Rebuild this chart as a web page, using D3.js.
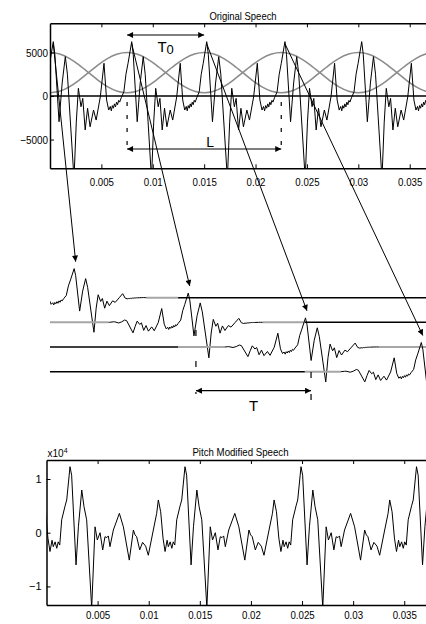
<!DOCTYPE html>
<html><head><meta charset="utf-8">
<script src="https://cdn.jsdelivr.net/npm/d3@7"></script>
<style>
html,body{margin:0;padding:0;background:#fff;}
svg{display:block;}
text{font-family:"Liberation Sans",Arial,Helvetica,sans-serif;fill:#000;}
</style></head><body>
<svg id="chart" width="426" height="624"></svg>
<script>
// ---------------- data ----------------
const xTicks = [0.005, 0.01, 0.015, 0.02, 0.025, 0.03, 0.035];
const xTickLabels = ["0.005", "0.01", "0.015", "0.02", "0.025", "0.03", "0.035"];
const topYTicks = [5000, 0, -5000];
const topYTickLabels = ["5000", "0", "\u22125000"];
const bottomYTicks = [10000, 0, -10000];
const bottomYTickLabels = ["1", "0", "\u22121"];
const titles = ["Original Speech", "Pitch Modified Speech"];

// original speech: one pitch period (ms after the main peak, amplitude)
const T0 = 0.0075;                      // analysis pitch period (s)
const origPeriodMs = 7.5;
const origShapeMs  = [0.00, 0.15, 0.55, 0.85, 1.15, 1.35, 1.98, 2.20, 2.40, 2.65, 2.82, 3.05, 3.28, 3.52, 3.85, 4.10, 4.50, 4.85, 5.10, 5.30, 5.45, 5.55, 5.65, 5.75, 5.85, 5.95, 6.05, 6.15, 6.25, 6.35, 6.50, 6.75, 6.95, 7.15];
const origShapeVal = [6240, 4800, -2950, 1500, 4520, 2500, -9500, -3000, 885, -1230, -270, -3900, -1410, -3530, -1610, -2760, -80, 3760, -460, -1610, -1200, -1700, -1100, -1400, -900, -1250, -700, -1000, -500, -700, -200, 490, 2500, 3760];
const origPeaks = [-0.00718, 0.00032, 0.00795, 0.01525, 0.02286, 0.03033, 0.0378, 0.0453];

// analysis windows (raised cosine) drawn over the original speech
const pitchMarks = [0, 0.0075, 0.015, 0.0225, 0.030, 0.0375];
const windowShape = [1, 0.962, 0.854, 0.691, 0.5, 0.309, 0.146, 0.038, 0]; // centre -> edge
const windowFloor = 380, windowTop = 5000;

// windowed segments, moved to the new pitch marks
const segSourceMarks = [0.0075, 0.015, 0.0225, 0.030];
const segNewMarks    = [0.0019, 0.0132, 0.0245, 0.0358];
const rowZeroSpans   = [[0, 0.01246], [0, 0.0248], [0.01246, 0.0375], [0.0248, 0.0375]];

// annotation spans
const t0Span = [0.0075, 0.015];
const lSpan  = [0.0075, 0.0225];
const tSpan  = [0.0142, 0.0254];

// pitch-modified speech: one period (ms after the main peak, amplitude)
const modPeriodMs = 11.25;
const modShapeMs  = [0.00, 0.16, 0.59, 0.82, 1.15, 1.37, 1.63, 2.12, 2.45, 2.67, 2.94, 3.20, 3.42, 3.60, 3.75, 3.91, 4.24, 4.83, 5.22, 5.80, 6.20, 6.36, 6.52, 6.82, 7.10, 7.40, 7.66, 8.15, 8.48, 8.64, 8.87, 9.10, 9.30, 9.50, 9.62, 9.80, 9.96, 10.10, 10.25, 10.44, 10.77, 10.93];
const modShapeVal = [12290, 10700, -6000, 1100, 7950, 4840, 2400, -14000, 1100, -1360, 0, -3200, -750, -900, -600, -2600, 500, 3600, 1100, -5100, 500, -400, -750, -3200, -1800, -2500, -4200, 500, 3600, 6100, 3900, -1000, -3500, -1400, -2600, -1700, -2900, -1700, -2300, 2400, 5000, 6100];
const modPeaks = [-0.0090, 0.0023, 0.01355, 0.0249, 0.0362, 0.04745];

// ---------------- helpers ----------------
function buildSignal(peaks, shapeMs, shapeVal, periodMs) {
  const pts = [];
  for (let i = 0; i < peaks.length - 1; i++) {
    const span = peaks[i + 1] - peaks[i];
    shapeMs.forEach((ms, j) => pts.push([peaks[i] + ms / periodMs * span, shapeVal[j]]));
  }
  pts.push([peaks[peaks.length - 1], shapeVal[0]]);
  return pts;
}
function win(f) {
  const n = windowShape.length - 1;
  const g = Math.min(1, Math.abs(f)) * n;
  const i = Math.floor(g);
  if (i >= n) return windowShape[n];
  return windowShape[i] + (windowShape[i + 1] - windowShape[i]) * (g - i);
}
function condense(sel, k) {
  sel.each(function () {
    const w = this.getComputedTextLength();
    d3.select(this).attr("textLength", w * k).attr("lengthAdjust", "spacingAndGlyphs");
  });
}

const origSignal = buildSignal(origPeaks, origShapeMs, origShapeVal, origPeriodMs);
const modSignal = buildSignal(modPeaks, modShapeMs, modShapeVal, modPeriodMs);

function windowCurve(marks) {
  const pts = [];
  const n = windowShape.length - 1;
  marks.forEach((m, mi) => {
    for (let k = -n; k <= n; k++) {
      if (mi > 0 && k === -n) continue;
      pts.push([m + k / n * T0, windowFloor + (windowTop - windowFloor) * windowShape[Math.abs(k)]]);
    }
  });
  return pts;
}
function segment(src, dst) {
  const shift = dst - src;
  const inside = origSignal.filter(d => Math.abs(d[0] - src) < T0);
  const pts = [[src - T0, 0]].concat(inside.map(d => [d[0], d[1] * win((d[0] - src) / T0)]), [[src + T0, 0]]);
  return { pts: pts.map(d => [d[0] + shift, d[1]]), orig: d3.greatest(inside, d => d[1]), shift };
}

// ---------------- scales ----------------
const svg = d3.select("#chart");
const xTop = d3.scaleLinear().domain([0, 0.0375]).range([50, 435.4]);
const yTop = d3.scaleLinear().domain([-8300, 8350]).range([168.3, 23.3]);
const xBot = d3.scaleLinear().domain([0, 0.0375]).range([46.5, 429.8]);
const yBot = d3.scaleLinear().domain([-13460, 13540]).range([605, 460]);
const rowY = d3.scalePoint().domain(d3.range(4)).range([297.7, 371.7]);
const ampMid = d3.scaleLinear().domain([0, 6240]).range([0, -29.6]);

const defs = svg.append("defs");
defs.append("clipPath").attr("id", "clipTop").append("rect")
  .attr("x", xTop(0)).attr("y", yTop.range()[1]).attr("width", 440).attr("height", yTop.range()[0] - yTop.range()[1]);
defs.append("clipPath").attr("id", "clipBot").append("rect")
  .attr("x", xBot(0)).attr("y", yBot.range()[1]).attr("width", 440).attr("height", yBot.range()[0] - yBot.range()[1]);
defs.append("clipPath").attr("id", "clipMid").append("rect")
  .attr("x", xTop(0)).attr("y", 220).attr("width", 440).attr("height", 200);
defs.append("marker").attr("id", "ah").attr("viewBox", "0 0 10 10").attr("refX", 10).attr("refY", 5)
  .attr("markerUnits", "userSpaceOnUse").attr("markerWidth", 7).attr("markerHeight", 6).attr("orient", "auto-start-reverse")
  .append("path").attr("d", "M0,0L10,5L0,10z").attr("fill", "#000");

function styleAxis(g, fs) {
  g.attr("font-family", null).attr("font-size", fs);
  g.select(".domain").attr("stroke", "#000").attr("stroke-width", 1.5);
  g.selectAll(".tick line").attr("stroke", "#000").attr("stroke-width", 1);
}

// ---------------- top panel: Original Speech ----------------
const gTop = svg.append("g");
gTop.append("text").attr("x", 243).attr("y", 19.5).attr("text-anchor", "middle").attr("font-size", 10.5)
  .text(titles[0]).call(condense, 0.9);

const wl = d3.line().x(d => xTop(d[0])).y(d => yTop(d[1])).curve(d3.curveNatural);
const gWin = gTop.append("g").attr("clip-path", "url(#clipTop)");
[pitchMarks.filter((d, i) => i % 2 === 0), pitchMarks.filter((d, i) => i % 2 === 1)].forEach(ms => {
  gWin.append("path").attr("d", wl(windowCurve(ms))).attr("fill", "none").attr("stroke", "#8c8c8c").attr("stroke-width", 1.6);
});
gTop.append("line").attr("x1", xTop(0)).attr("x2", 426).attr("y1", yTop(0)).attr("y2", yTop(0)).attr("stroke", "#000").attr("stroke-width", 1.5);
const sl = d3.line().x(d => xTop(d[0])).y(d => yTop(d[1]));
gTop.append("path").attr("clip-path", "url(#clipTop)").attr("d", sl(origSignal))
  .attr("fill", "none").attr("stroke", "#000").attr("stroke-width", 1).attr("stroke-linejoin", "round");

const axB = gTop.append("g").attr("transform", `translate(0,${yTop.range()[0]})`)
  .call(d3.axisBottom(xTop).tickValues(xTicks).tickSize(-4).tickSizeOuter(0).tickPadding(10).tickFormat((d, i) => xTickLabels[i]));
styleAxis(axB, 11); condense(axB.selectAll("text"), 0.88);
const axT = gTop.append("g").attr("transform", `translate(0,${yTop.range()[1]})`)
  .call(d3.axisTop(xTop).tickValues(xTicks).tickSize(-4).tickSizeOuter(0).tickFormat(""));
styleAxis(axT, 11);
const axL = gTop.append("g").attr("transform", `translate(${xTop(0)},0)`)
  .call(d3.axisLeft(yTop).tickValues(topYTicks).tickSize(-4).tickSizeOuter(0).tickPadding(2).tickFormat((d, i) => topYTickLabels[i]));
styleAxis(axL, 11); condense(axL.selectAll("text"), 0.9);

// T0 and L annotations
gTop.append("line").attr("x1", xTop(t0Span[0])).attr("x2", xTop(t0Span[1])).attr("y1", 35).attr("y2", 35)
  .attr("stroke", "#000").attr("stroke-width", 1.2).attr("marker-start", "url(#ah)").attr("marker-end", "url(#ah)");
const t0t = gTop.append("text").attr("x", (xTop(t0Span[0]) + xTop(t0Span[1])) / 2).attr("y", 51.5).attr("text-anchor", "middle").attr("font-size", 15);
t0t.append("tspan").text("T");
t0t.append("tspan").attr("font-size", 13).attr("dy", 2).text("0");
lSpan.forEach(t => gTop.append("line").attr("x1", xTop(t)).attr("x2", xTop(t)).attr("y1", 102).attr("y2", 151)
  .attr("stroke", "#000").attr("stroke-width", 1.2).attr("stroke-dasharray", "4,9"));
gTop.append("line").attr("x1", xTop(lSpan[0])).attr("x2", xTop(lSpan[1])).attr("y1", 149).attr("y2", 149)
  .attr("stroke", "#000").attr("stroke-width", 1.2).attr("marker-start", "url(#ah)").attr("marker-end", "url(#ah)");
gTop.append("text").attr("x", (xTop(lSpan[0]) + xTop(lSpan[1])) / 2 + 6).attr("y", 146.5).attr("text-anchor", "middle").attr("font-size", 14).text("L");

// ---------------- middle panel: windowed segments ----------------
const gMidAll = svg.append("g");
const gMid = gMidAll.append("g").attr("clip-path", "url(#clipMid)");
const segs = segSourceMarks.map((s, k) => segment(s, segNewMarks[k]));
segs.forEach((sg, k) => {
  const y0 = rowY(k);
  const zs = rowZeroSpans[k];
  const dom = xTop.domain();
  const sup = [segNewMarks[k] - T0, segNewMarks[k] + T0];
  const blacks = [[dom[0], zs[0]], [zs[1], dom[1]]].filter(p => p[1] - p[0] > 1e-6);
  blacks.forEach(p => gMid.append("line").attr("x1", xTop(p[0])).attr("x2", xTop(p[1])).attr("y1", y0).attr("y2", y0)
    .attr("stroke", "#000").attr("stroke-width", 1.5));
  const grays = [[zs[0], Math.max(zs[0], Math.min(zs[1], sup[0]))], [Math.min(zs[1], Math.max(zs[0], sup[1])), zs[1]]].filter(p => p[1] - p[0] > 1e-6);
  grays.forEach(p => gMid.append("line").attr("x1", xTop(p[0])).attr("x2", xTop(p[1])).attr("y1", y0).attr("y2", y0)
    .attr("stroke", "#a6a6a6").attr("stroke-width", 2));
  const ml = d3.line().x(d => xTop(d[0])).y(d => y0 + ampMid(d[1]));
  gMid.append("path").attr("d", ml(sg.pts)).attr("fill", "none").attr("stroke", "#000").attr("stroke-width", 1).attr("stroke-linejoin", "round");
});
segs.forEach((sg, k) => {
  const p = d3.greatest(sg.pts, d => d[1]);
  gMidAll.append("line").attr("x1", xTop(sg.orig[0])).attr("y1", yTop(sg.orig[1]) + 2)
    .attr("x2", xTop(p[0]) + 1.5).attr("y2", rowY(k) + ampMid(p[1]) - 7)
    .attr("stroke", "#000").attr("stroke-width", 1).attr("marker-end", "url(#ah)");
});
gMidAll.append("line").attr("x1", xTop(tSpan[0])).attr("x2", xTop(tSpan[0])).attr("y1", 330).attr("y2", 394)
  .attr("stroke", "#000").attr("stroke-width", 1.2).attr("stroke-dasharray", "6,25");
gMidAll.append("line").attr("x1", xTop(tSpan[1])).attr("x2", xTop(tSpan[1])).attr("y1", 372).attr("y2", 401)
  .attr("stroke", "#000").attr("stroke-width", 1.2).attr("stroke-dasharray", "6,16");
gMidAll.append("line").attr("x1", xTop(tSpan[0])).attr("x2", xTop(tSpan[1])).attr("y1", 390.7).attr("y2", 390.7)
  .attr("stroke", "#000").attr("stroke-width", 1.2).attr("marker-start", "url(#ah)").attr("marker-end", "url(#ah)");
gMidAll.append("text").attr("x", (xTop(tSpan[0]) + xTop(tSpan[1])) / 2).attr("y", 410.5).attr("text-anchor", "middle").attr("font-size", 15).text("T");

// ---------------- bottom panel: Pitch Modified Speech ----------------
const gBot = svg.append("g");
gBot.append("text").attr("x", 240.5).attr("y", 456).attr("text-anchor", "middle").attr("font-size", 10.5)
  .text(titles[1]).call(condense, 0.92);
const ex = gBot.append("text").attr("x", 47.5).attr("y", 457).attr("font-size", 10);
ex.append("tspan").text("x10");
ex.append("tspan").attr("font-size", 7).attr("dy", -4).text("4");
const bl = d3.line().x(d => xBot(d[0])).y(d => yBot(d[1]));
gBot.append("path").attr("clip-path", "url(#clipBot)").attr("d", bl(modSignal))
  .attr("fill", "none").attr("stroke", "#000").attr("stroke-width", 1).attr("stroke-linejoin", "round");
const bB = gBot.append("g").attr("transform", `translate(0,${yBot.range()[0]})`)
  .call(d3.axisBottom(xBot).tickValues(xTicks).tickSize(-4).tickSizeOuter(0).tickPadding(6.5).tickFormat((d, i) => xTickLabels[i]));
styleAxis(bB, 11); condense(bB.selectAll("text"), 0.88);
const bT = gBot.append("g").attr("transform", `translate(0,${yBot.range()[1]})`)
  .call(d3.axisTop(xBot).tickValues(xTicks).tickSize(-4).tickSizeOuter(0).tickFormat(""));
styleAxis(bT, 11);
const bL = gBot.append("g").attr("transform", `translate(${xBot(0)},0)`)
  .call(d3.axisLeft(yBot).tickValues(bottomYTicks).tickSize(-4).tickSizeOuter(0).tickPadding(5).tickFormat((d, i) => bottomYTickLabels[i]));
styleAxis(bL, 11);
</script>
</body></html>
